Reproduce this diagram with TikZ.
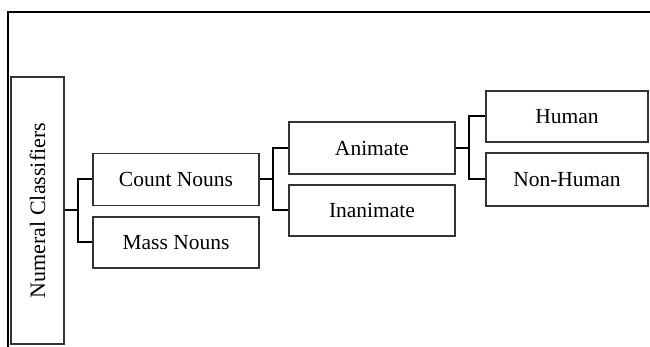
\documentclass[tikz,border=0pt]{standalone}
\usepackage{fontspec}
\setmainfont{Liberation Serif}
\definecolor{boxline}{HTML}{333333}
\begin{document}
\begin{tikzpicture}[x=1pt,y=-1pt,
  box/.style={draw=boxline, line width=1.5pt, inner sep=0pt, align=center,
    font=\fontsize{21.5}{24}\selectfont},
  link/.style={line width=2pt, draw=black}]
\useasboundingbox (0,0) rectangle (650,347);
% outer frame (top and left edges)
\draw[line width=2.5pt] (8,347) -- (8,12) -- (650,12);
% boxes
\node[box, minimum width=53pt, minimum height=267pt] (numeral) at (37.5,210.5)
  {\rotatebox{90}{\fontsize{22}{24}\selectfont Numeral Classifiers}};
\node[box, minimum width=166pt, minimum height=52pt] (count) at (176,179.5) {Count Nouns};
\node[box, minimum width=166pt, minimum height=51pt] (mass) at (176,242.5) {Mass Nouns};
\node[box, minimum width=166pt, minimum height=52pt] (animate) at (372,148) {Animate};
\node[box, minimum width=166pt, minimum height=51pt] (inanimate) at (372,210.5) {Inanimate};
\node[box, minimum width=162pt, minimum height=51pt] (human) at (567,116.5) {Human};
\node[box, minimum width=162pt, minimum height=53pt] (nonhuman) at (567,179.5) {Non-Human};
% bracket connectors
\coordinate (j1) at ([xshift=-14pt]count.west);
\draw[link] (count.west) -- (j1) |- (mass.west);
\draw[link] (numeral.east) -- (numeral.east -| j1);
\coordinate (j2) at ([xshift=-15pt]animate.west);
\draw[link] (animate.west) -- (j2) |- (inanimate.west);
\draw[link] (count.east) -- (count.east -| j2);
\coordinate (j3) at ([xshift=-16pt]human.west);
\draw[link] (human.west) -- (j3) |- (nonhuman.west);
\draw[link] (animate.east) -- (animate.east -| j3);
\end{tikzpicture}
\end{document}
